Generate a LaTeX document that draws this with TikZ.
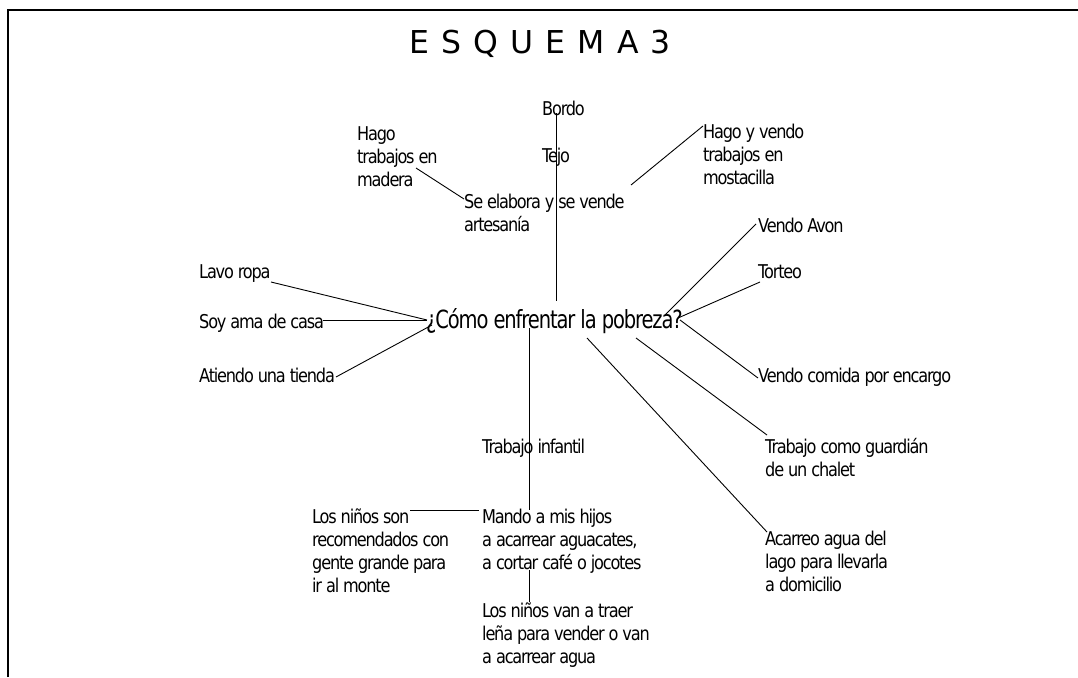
\documentclass[tikz,border=0pt]{standalone}
\usepackage{fontspec}
\newfontfamily\bodyf{DejaVu Sans}[FakeStretch=0.85,LetterSpace=-6.3]
\newfontfamily\centf{DejaVu Sans}[FakeStretch=0.78,LetterSpace=-4.5]
\newfontfamily\titlef{DejaVu Sans}[LetterSpace=7]
\tikzset{
  lbl/.style={anchor=base west,inner sep=0pt,align=left,font=\bodyf\fontsize{19}{23}\selectfont},
  cen/.style={anchor=base west,inner sep=0pt,font=\centf\fontsize{25}{29}\selectfont},
  conn/.style={line width=0.9pt},
}
\begin{document}
\begin{tikzpicture}[x=1pt,y=-1pt]
\useasboundingbox (0,0) rectangle (1078,677);
\draw[line width=2pt] (8,677) -- (8,10) -- (1078,10);
\node[anchor=base,inner sep=0pt,font=\titlef\fontsize{31.5}{36}\selectfont] (title) at (540,53) {E S Q U E M A 3};
% single-line nodes: base = baseline; multi-line nodes: base = baseline of last line
\node[lbl] (bordo) at (542,115) {Bordo};
\node[lbl] (tejo) at (542,162) {Tejo};
\node[lbl] (elabora) at (464,231) {Se elabora y se vende\\artesanía};
\node[lbl] (madera) at (357,186) {Hago\\trabajos en\\madera};
\node[lbl] (mostacilla) at (703,184) {Hago y vendo\\trabajos en\\mostacilla};
\node[lbl] (avon) at (758,232) {Vendo Avon};
\node[lbl] (torteo) at (758,278) {Torteo};
\node[lbl] (lavo) at (199,278) {Lavo ropa};
\node[lbl] (soy) at (199,328) {Soy ama de casa};
\node[lbl] (atiendo) at (199,382) {Atiendo una tienda};
\node[cen] (center) at (426,328) {¿Cómo enfrentar la pobreza?};
\node[lbl] (comida) at (758,382) {Vendo comida por encargo};
\node[lbl] (infantil) at (482,453) {Trabajo infantil};
\node[lbl] (guardian) at (765,476) {Trabajo como guardián\\de un chalet};
\node[lbl] (recom) at (312,592) {Los niños son\\recomendados con\\gente grande para\\ir al monte};
\node[lbl] (mando) at (482,569) {Mando a mis hijos\\a acarrear aguacates,\\a cortar café o jocotes};
\node[lbl] (acarreo) at (765,591) {Acarreo agua del\\lago para llevarla\\a domicilio};
\node[lbl] (lena) at (482,663) {Los niños van a traer\\leña para vender o van\\a acarrear agua};
% connector end points
\coordinate (bordoE) at (556,113);
\coordinate (cTop) at (556,301);
\coordinate (maderaE) at (416,168);
\coordinate (elaboraW) at (464,199);
\coordinate (elaboraE) at (631,185);
\coordinate (mostaE) at (703,126);
\coordinate (avonE) at (756,224);
\coordinate (cAvon) at (665,315);
\coordinate (torteoE) at (760,282);
\coordinate (cTorteo) at (678,318);
\coordinate (cComida) at (680,320);
\coordinate (comidaE) at (758,378);
\coordinate (cGuard) at (636,338);
\coordinate (guardE) at (767,435);
\coordinate (cAcarreo) at (587,338);
\coordinate (acarreoE) at (767,532);
\coordinate (cBottom) at (529,328);
\coordinate (mandoTop) at (529,510);
\coordinate (recomE) at (410,510);
\coordinate (mandoW) at (479,510);
\coordinate (mandoBot) at (529,570);
\coordinate (lenaTop) at (529,602);
\coordinate (lavoE) at (271,282);
\coordinate (cWest) at (427,320);
\coordinate (soyE) at (323,320);
\coordinate (atiendoE) at (336,377);
\coordinate (cWest2) at (432,325);
\draw[conn] (bordoE) -- (cTop);
\draw[conn] (maderaE) -- (elaboraW);
\draw[conn] (elaboraE) -- (mostaE);
\draw[conn] (avonE) -- (cAvon);
\draw[conn] (torteoE) -- (cTorteo);
\draw[conn] (cComida) -- (comidaE);
\draw[conn] (cGuard) -- (guardE);
\draw[conn] (cAcarreo) -- (acarreoE);
\draw[conn] (cBottom) -- (mandoTop);
\draw[conn] (recomE) -- (mandoW);
\draw[conn] (mandoBot) -- (lenaTop);
\draw[conn] (lavoE) -- (cWest);
\draw[conn] (soyE) -- (cWest);
\draw[conn] (atiendoE) -- (cWest2);
\end{tikzpicture}
\end{document}
